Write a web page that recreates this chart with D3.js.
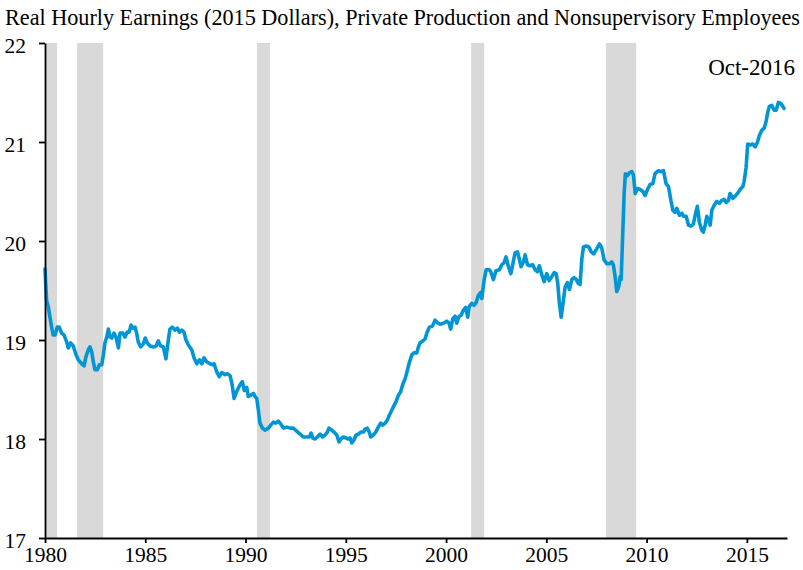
<!DOCTYPE html>
<html>
<head>
<meta charset="utf-8">
<script src="https://cdn.jsdelivr.net/npm/d3@7"></script>
<style>
  html, body { margin: 0; padding: 0; background: #fff; }
  svg { display: block; }
  text { font-family: "Liberation Serif", "Times New Roman", serif; fill: #000; }
</style>
</head>
<body>
<svg id="chart" width="803" height="570"></svg>
<script>
const titleText = "Real Hourly Earnings (2015 Dollars), Private Production and Nonsupervisory Employees";
const lastLabel = "Oct-2016";

const yearTicks = [1980, 1985, 1990, 1995, 2000, 2005, 2010, 2015];
const valueTicks = [17, 18, 19, 20, 21, 22];

const recessionStart = [1980.0, 1981.6, 1990.57, 2001.25, 2007.98];
const recessionEnd   = [1980.6, 1982.9, 1991.22, 2001.9, 2009.48];

const dates = [
1980.00,1980.04,1980.08,1980.16,1980.33,1980.41,1980.50,1980.61,1980.71,1980.83,1980.95,
1981.08,1981.16,1981.28,1981.41,1981.55,1981.66,1981.83,1981.95,
1982.04,1982.16,1982.24,1982.33,1982.41,1982.49,1982.61,1982.71,1982.83,1982.91,1982.99,
1983.08,1983.16,1983.24,1983.33,1983.44,1983.54,1983.66,1983.74,1983.88,1983.99,
1984.10,1984.20,1984.29,1984.37,1984.49,1984.57,1984.65,1984.77,1984.90,
1985.00,1985.10,1985.24,1985.40,1985.54,1985.65,1985.77,1985.90,
1986.03,1986.15,1986.23,1986.35,1986.48,1986.60,1986.70,1986.82,1986.93,
1987.03,1987.15,1987.32,1987.43,1987.57,1987.70,1987.82,1987.93,
1988.06,1988.23,1988.36,1988.43,1988.56,1988.69,1988.81,1988.98,
1989.09,1989.23,1989.33,1989.43,1989.56,1989.73,1989.84,1989.94,
1990.06,1990.14,1990.26,1990.39,1990.47,1990.56,1990.64,1990.72,1990.84,1990.97,
1991.14,1991.26,1991.39,1991.51,1991.64,1991.76,1991.89,
1992.06,1992.22,1992.38,1992.55,1992.72,1992.88,
1993.05,1993.18,1993.27,1993.35,1993.47,1993.58,1993.72,1993.83,1993.97,
1994.08,1994.16,1994.30,1994.41,1994.55,1994.66,1994.75,1994.88,
1995.01,1995.13,1995.21,1995.30,1995.41,1995.51,1995.63,1995.75,1995.88,1995.96,
1996.07,1996.17,1996.24,1996.37,1996.49,1996.62,1996.74,1996.84,1996.96,
1997.07,1997.17,1997.29,1997.41,1997.51,1997.62,1997.74,1997.84,1997.96,
1998.04,1998.15,1998.29,1998.40,1998.54,1998.62,1998.70,1998.84,1998.95,
1999.04,1999.17,1999.32,1999.45,1999.59,1999.70,1999.87,
2000.03,2000.15,2000.23,2000.33,2000.45,2000.53,2000.65,2000.75,2000.86,2000.98,
2001.08,2001.16,2001.28,2001.40,2001.50,2001.61,2001.73,2001.78,2001.90,
2002.00,2002.16,2002.23,2002.36,2002.49,2002.66,2002.78,2002.89,2002.99,
2003.11,2003.23,2003.33,2003.44,2003.56,2003.66,2003.74,2003.86,2003.94,
2004.06,2004.19,2004.32,2004.44,2004.55,2004.65,2004.77,2004.89,
2005.02,2005.14,2005.27,2005.39,2005.49,2005.57,2005.65,2005.74,2005.85,2005.94,
2006.05,2006.15,2006.27,2006.38,2006.50,2006.60,2006.68,2006.77,2006.85,2006.98,
2007.12,2007.24,2007.36,2007.51,2007.65,2007.76,2007.88,
2008.01,2008.14,2008.26,2008.34,2008.43,2008.51,2008.61,2008.68,2008.73,2008.81,2008.88,2008.94,
2009.04,2009.14,2009.26,2009.34,2009.43,2009.54,2009.68,2009.81,2009.93,
2010.04,2010.17,2010.31,2010.42,2010.59,2010.71,2010.84,2010.97,
2011.09,2011.21,2011.31,2011.42,2011.51,2011.64,2011.76,2011.84,2011.97,
2012.09,2012.21,2012.33,2012.42,2012.53,2012.63,2012.75,2012.83,2012.92,
2013.00,2013.08,2013.17,2013.25,2013.37,2013.50,2013.63,2013.75,2013.87,2013.97,
2014.08,2014.16,2014.30,2014.41,2014.53,2014.66,2014.80,2014.86,2014.96,
2015.04,2015.16,2015.29,2015.41,2015.53,2015.63,2015.75,2015.86,2015.96,
2016.03,2016.12,2016.24,2016.36,2016.46,2016.57,2016.69,2016.79,2016.85
];

const values = [
19.72,19.55,19.40,19.34,19.13,19.05,19.05,19.13,19.13,19.07,19.05,
18.98,18.92,18.97,18.94,18.85,18.80,18.76,18.74,
18.83,18.90,18.93,18.88,18.78,18.70,18.70,18.75,18.75,18.85,18.97,
19.03,19.11,19.03,19.02,19.07,19.03,18.92,19.07,19.07,19.03,
19.08,19.08,19.15,19.12,19.13,19.07,18.98,18.93,18.96,
19.02,18.97,18.94,18.93,18.94,18.99,18.94,18.93,
18.81,19.00,19.11,19.13,19.10,19.12,19.08,19.10,19.08,
19.00,18.95,18.90,18.82,18.76,18.80,18.76,18.82,
18.78,18.76,18.75,18.76,18.68,18.63,18.67,18.65,
18.66,18.64,18.55,18.41,18.48,18.55,18.58,18.49,
18.52,18.43,18.44,18.46,18.43,18.41,18.29,18.16,18.11,18.09,
18.11,18.14,18.17,18.16,18.18,18.15,18.11,
18.12,18.11,18.11,18.08,18.05,18.02,
18.02,18.02,18.06,18.01,18.00,18.02,18.05,18.02,18.04,
18.07,18.11,18.09,18.07,18.04,17.97,18.00,18.02,
18.01,18.00,18.01,17.96,17.99,18.04,18.05,18.07,18.07,18.10,
18.11,18.07,18.02,18.04,18.07,18.12,18.16,18.14,18.16,
18.19,18.24,18.29,18.34,18.38,18.44,18.48,18.55,18.61,
18.67,18.76,18.85,18.87,18.87,18.93,18.97,18.99,19.01,
19.07,19.13,19.14,19.20,19.17,19.16,19.17,
19.19,19.17,19.11,19.21,19.24,19.17,19.24,19.25,19.30,19.33,
19.23,19.34,19.37,19.35,19.38,19.45,19.48,19.42,19.61,
19.71,19.71,19.69,19.61,19.70,19.71,19.76,19.78,19.84,
19.74,19.67,19.77,19.88,19.89,19.81,19.74,19.79,19.86,
19.76,19.75,19.76,19.71,19.69,19.75,19.66,19.59,
19.67,19.60,19.64,19.68,19.67,19.57,19.37,19.23,19.40,19.54,
19.58,19.51,19.61,19.63,19.61,19.57,19.56,19.82,19.94,19.95,
19.94,19.89,19.87,19.92,19.97,19.93,19.81,
19.77,19.77,19.79,19.76,19.64,19.49,19.54,19.64,19.61,20.08,20.48,20.68,
20.66,20.69,20.70,20.67,20.48,20.53,20.52,20.50,20.46,
20.52,20.57,20.58,20.68,20.71,20.70,20.71,20.58,
20.55,20.41,20.31,20.29,20.33,20.26,20.28,20.25,20.25,
20.16,20.15,20.17,20.26,20.35,20.19,20.11,20.09,20.16,
20.25,20.21,20.16,20.31,20.36,20.40,20.38,20.41,20.42,20.39,
20.41,20.48,20.43,20.45,20.48,20.52,20.55,20.60,20.74,
20.98,20.97,20.98,20.95,21.00,21.07,21.12,21.14,21.21,
21.29,21.36,21.37,21.32,21.32,21.40,21.39,21.36,21.34
];

const data = dates.map((d, i) => ({ t: d, v: values[i] }));

const svg = d3.select("#chart");
const padLeft = 45, padRight = 787, padTop = 43, padBottom = 538;

const x = d3.scaleLinear().domain([1980, 2017]).range([padLeft, padRight]);
const y = d3.scaleLinear().domain([17, 22]).range([padBottom, padTop]);

// recession bands
svg.append("g").selectAll("rect")
  .data(recessionStart.map((s, i) => [s, recessionEnd[i]]))
  .join("rect")
  .attr("x", d => x(d[0]))
  .attr("width", d => x(d[1]) - x(d[0]))
  .attr("y", padTop)
  .attr("height", padBottom - padTop)
  .attr("fill", "#d9d9d9");

// line
svg.append("path")
  .datum(data)
  .attr("fill", "none")
  .attr("stroke", "#0096d6")
  .attr("stroke-width", 3.6)
  .attr("stroke-linejoin", "round")
  .attr("stroke-linecap", "round")
  .attr("d", d3.line().x(d => x(d.t)).y(d => y(d.v)));

// axes
const yAxis = svg.append("g")
  .attr("transform", `translate(${padLeft},0)`)
  .call(d3.axisLeft(y).tickValues(valueTicks).tickFormat(d3.format("d")).tickSize(6).tickSizeOuter(0).tickPadding(13));
const xAxis = svg.append("g")
  .attr("transform", `translate(0,${padBottom})`)
  .call(d3.axisBottom(x).tickValues(yearTicks).tickFormat(d3.format("d")).tickSize(5).tickSizeOuter(0).tickPadding(4));

[yAxis, xAxis].forEach(a => {
  a.select(".domain").attr("stroke", "#000").attr("stroke-width", 1.8);
  a.selectAll(".tick line").attr("stroke", "#000").attr("stroke-width", 1.8);
  a.selectAll(".tick text")
    .style("font-family", '"Liberation Serif", "Times New Roman", serif')
    .attr("font-size", 21.5).attr("fill", "#000");
});
yAxis.selectAll(".tick text").attr("dy", "0.42em");

// title
svg.append("text")
  .attr("x", 5).attr("y", 25)
  .attr("font-size", 22.2)
  .text(titleText);

// last date label
svg.append("text")
  .attr("x", 795).attr("y", 75)
  .attr("text-anchor", "end")
  .attr("font-size", 23)
  .text(lastLabel);
</script>
</body>
</html>
